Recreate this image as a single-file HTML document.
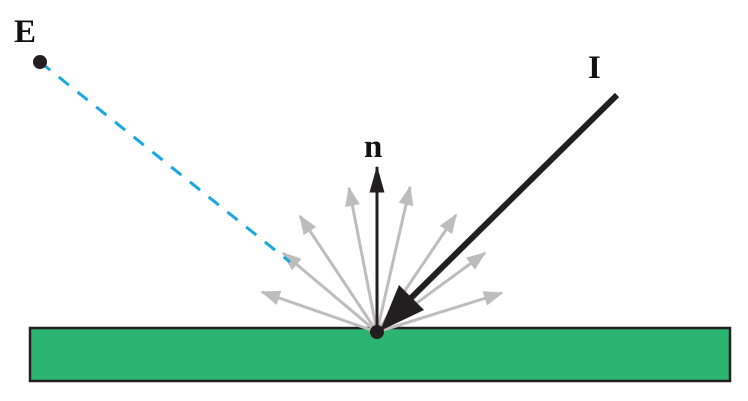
<!DOCTYPE html>
<html><head><style>html,body{margin:0;padding:0;background:#fff;}svg{display:block}</style></head>
<body>
<svg width="748" height="401" viewBox="0 0 748 401" xmlns="http://www.w3.org/2000/svg">
<defs>
<marker id="g" markerWidth="6.5" markerHeight="5" refX="6" refY="2.5" orient="auto" markerUnits="strokeWidth"><path d="M0,0 L6.5,2.5 L0,5 z" fill="#bdbdbd"/></marker>
<marker id="b" markerWidth="9" markerHeight="5" refX="8.5" refY="2.5" orient="auto" markerUnits="strokeWidth"><path d="M0,0 L9,2.5 L0,5 z" fill="#231f20"/></marker>
</defs>
<rect x="30" y="328" width="700" height="53" fill="#2bb570" stroke="#231f20" stroke-width="2.5"/>
<g stroke="#bdbdbd" stroke-width="3" fill="none" marker-end="url(#g)">
<line x1="377" y1="332" x2="262" y2="292"/>
<line x1="377" y1="332" x2="283" y2="253"/>
<line x1="377" y1="332" x2="300" y2="216"/>
<line x1="377" y1="332" x2="349" y2="188"/>
<line x1="377" y1="332" x2="410" y2="187"/>
<line x1="377" y1="332" x2="456" y2="215"/>
<line x1="377" y1="332" x2="485" y2="253"/>
<line x1="377" y1="332" x2="502" y2="293"/>
</g>
<line x1="377" y1="332" x2="377" y2="167" stroke="#231f20" stroke-width="3" marker-end="url(#b)"/>
<line x1="40" y1="62" x2="290" y2="262" stroke="#1aa7e0" stroke-width="3" stroke-dasharray="13,11"/>
<circle cx="40" cy="62" r="7" fill="#231f20"/>
<line x1="617" y1="95" x2="410" y2="299" stroke="#231f20" stroke-width="6"/>
<polygon points="380,331 399,285 424,310" fill="#231f20"/>
<circle cx="377" cy="332" r="7" fill="#231f20"/>
<g font-family="'Liberation Serif',serif" font-weight="bold" font-size="33" fill="#111">
<text x="14" y="42">E</text>
<text x="588" y="78">I</text>
<text x="364" y="157">n</text>
</g>
</svg>
</body></html>
